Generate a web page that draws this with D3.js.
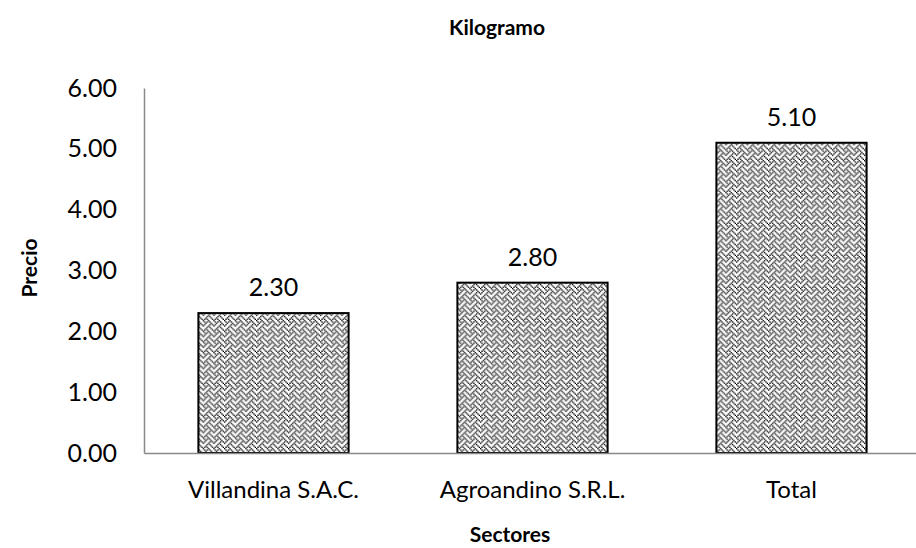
<!DOCTYPE html>
<html>
<head>
<meta charset="utf-8">
<script src="https://cdn.jsdelivr.net/npm/d3@7"></script>
<style>
  body { margin: 0; background: #fff; }
  text { font-family: Lato, "Open Sans", sans-serif; fill: #000; }
</style>
</head>
<body>
<svg width="916" height="548"></svg>
<script>
const categories = ['Villandina S.A.C.', 'Agroandino S.R.L.', 'Total'];
const values = [2.30, 2.80, 5.10];
const yTicks = [0, 1, 2, 3, 4, 5, 6];
const chartTitle = 'Kilogramo';
const xTitle = 'Sectores';
const yTitle = 'Precio';

const plotLeft = 144;
const plotRight = 921;
const plotTop = 88;
const plotBottom = 453;

// weave fill, 8x8 bitmap drawn a bit larger than 1px per cell
const patternRows = [
  'X...X...',
  '.X.X.X..',
  '..X...X.',
  '.X...X.X',
  'X...X...',
  '...X.X..',
  '..X...X.',
  '.X.X...X'
];
const cell = 4/3;

var svg = d3.select('svg');

var defs = svg.append('defs');
var pat = defs.append('pattern')
  .attr('id', 'weave')
  .attr('patternUnits', 'userSpaceOnUse')
  .attr('width', 8*cell).attr('height', 8*cell);
pat.append('rect').attr('width', 8*cell).attr('height', 8*cell).attr('fill', '#fff');
patternRows.forEach(function(row, r){
  row.split('').forEach(function(c, i){
    if(c == 'X') pat.append('rect').attr('x', i*cell).attr('y', r*cell)
      .attr('width', cell).attr('height', cell).attr('fill', '#000');
  });
});

var x = d3.scaleBand()
  .domain(categories)
  .range([plotLeft, plotRight])
  .paddingInner(0.42)
  .paddingOuter(0.21);

var y = d3.scaleLinear()
  .domain([0, 6])
  .range([plotBottom, plotTop]);

// y axis
var yAxis = d3.axisLeft(y)
  .tickValues(yTicks)
  .tickSize(0)
  .tickPadding(27)
  .tickFormat(d3.format('.2f'));
svg.append('g')
  .attr('transform', 'translate(' + plotLeft + ',0)')
  .call(yAxis)
  .call(function(g){
    g.select('.domain').attr('stroke', '#898989').attr('stroke-width', 1.5);
    g.selectAll('.tick text').style('font-size', '25px').attr('font-family', null);
  });

// bars
svg.append('g').selectAll('rect')
  .data(values)
  .enter().append('rect')
  .attr('x', function(d, i){ return x(categories[i]); })
  .attr('y', function(d){ return y(d); })
  .attr('width', x.bandwidth())
  .attr('height', function(d){ return y(0) - y(d); })
  .attr('fill', 'url(#weave)')
  .attr('stroke', '#000')
  .attr('stroke-width', 2);

// x axis
var xAxis = d3.axisBottom(x).tickSize(0).tickPadding(28);
svg.append('g')
  .attr('transform', 'translate(0,' + plotBottom + ')')
  .call(xAxis)
  .call(function(g){
    g.select('.domain').attr('stroke', '#898989').attr('stroke-width', 1.5);
    g.selectAll('.tick text').style('font-size', '24px').attr('font-family', null);
  });

// value labels
svg.append('g').selectAll('text')
  .data(values)
  .enter().append('text')
  .attr('x', function(d, i){ return x(categories[i]) + x.bandwidth()/2; })
  .attr('y', function(d){ return y(d) - 17; })
  .attr('text-anchor', 'middle')
  .style('font-size', '25px')
  .text(function(d){ return d3.format('.2f')(d); });

// titles
svg.append('text')
  .attr('x', 497).attr('y', 35)
  .attr('text-anchor', 'middle')
  .style('font-size', '21px').style('font-weight', 'bold')
  .text(chartTitle);

svg.append('text')
  .attr('x', 510).attr('y', 542)
  .attr('text-anchor', 'middle')
  .style('font-size', '21px').style('font-weight', 'bold')
  .text(xTitle);

svg.append('text')
  .attr('transform', 'translate(37,268) rotate(-90)')
  .attr('text-anchor', 'middle')
  .style('font-size', '21px').style('font-weight', 'bold')
  .text(yTitle);
</script>
</body>
</html>
